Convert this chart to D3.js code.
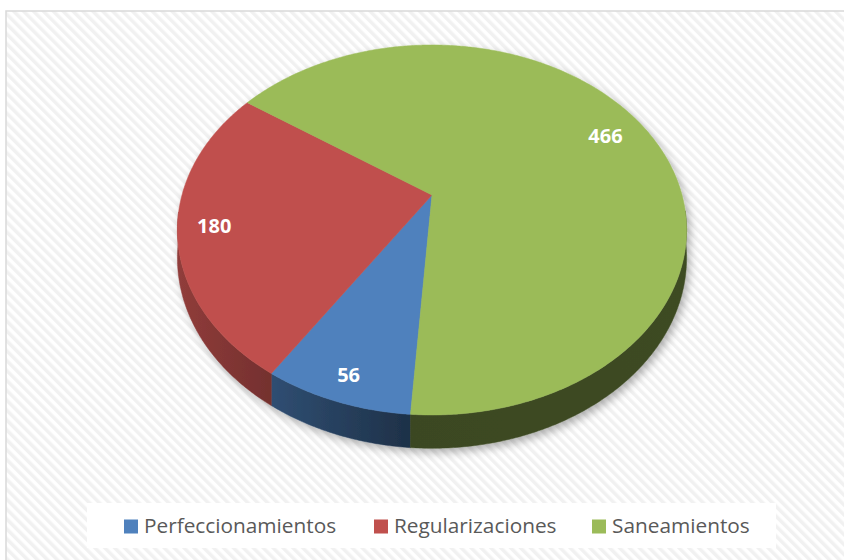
<!DOCTYPE html>
<html>
<head>
<meta charset="utf-8">
<script src="https://cdn.jsdelivr.net/npm/d3@7"></script>
<style>
  html, body { margin: 0; padding: 0; background: #ffffff; }
  svg { display: block; }
</style>
</head>
<body>
<svg id="chart" width="844" height="560"></svg>
<script>
// ---- data ----
const categories = ["Perfeccionamientos", "Regularizaciones", "Saneamientos"];
const values = [56, 180, 466];
const colors = ["#4f81bd", "#c0504d", "#9bbb59"];

// ---- layout ----
const cx = 432, cy = 195;       // projected pie centre (apex)
const rxBase = 250, ryBase = 178.4, persp = 0.189; // perspective ellipse
const thick = 27;               // side thickness
const startDeg = 184;           // first slice angle

const svg = d3.select("#chart");
const defs = svg.append("defs");

// striped background pattern
const pat = defs.append("pattern")
  .attr("id", "stripes")
  .attr("patternUnits", "userSpaceOnUse")
  .attr("width", 7).attr("height", 7)
  .attr("patternTransform", "rotate(-45)");
pat.append("rect").attr("width", 7).attr("height", 7).attr("fill", "#ffffff");
pat.append("rect").attr("width", 3.5).attr("height", 7).attr("fill", "#f1f1f1");

const flt = defs.append("filter").attr("id", "shadow")
  .attr("x", "-10%").attr("y", "-10%").attr("width", "125%").attr("height", "130%");
flt.append("feDropShadow").attr("dx", 3).attr("dy", 4).attr("stdDeviation", 4)
  .attr("flood-color", "#000").attr("flood-opacity", 0.3);

// chart area
svg.append("rect").attr("x", 6).attr("y", 11).attr("width", 900).attr("height", 600)
  .attr("fill", "url(#stripes)").attr("stroke", "#d9d9d9").attr("stroke-width", 1.5);

// scales
const color = d3.scaleOrdinal().domain(categories).range(colors);
const start = startDeg * Math.PI / 180;
const pie = d3.pie().sort(null).value(d => d.value)
  .startAngle(start).endAngle(start + 2 * Math.PI);
const arcs = pie(categories.map((c, i) => ({ cat: c, value: values[i] })));

function proj(theta, rho, depth) {
  const u = rho * Math.sin(theta), v = rho * Math.cos(theta);
  const s = 1 / (1 + persp * v);
  return [cx + rxBase * u * s, cy - ryBase * v * s + depth * s];
}

// side shading gradients (darker toward the front-right)
const shadeStops = [[180, 0.25], [410, 0.62], [690, 0.6]];
arcs.forEach((a, i) => {
  const base = d3.color(color(a.data.cat));
  const gr = defs.append("linearGradient").attr("id", "side" + i)
    .attr("gradientUnits", "userSpaceOnUse")
    .attr("x1", 180).attr("y1", 0).attr("x2", 690).attr("y2", 0);
  shadeStops.forEach(([x, t]) => {
    gr.append("stop").attr("offset", (x - 180) / 510)
      .attr("stop-color", d3.interpolateRgb(base, "#000000")(t));
  });
});

const g = svg.append("g").attr("filter", "url(#shadow)");
const line = d3.line();
const step = Math.PI / 360;

// side walls (front half only)
const lo = 95 * Math.PI / 180, hi = 265 * Math.PI / 180;
function norm(t) { let r = t % (2 * Math.PI); if (r < 0) r += 2 * Math.PI; return r; }
const sides = [];
arcs.forEach((a, i) => {
  // walk slice angle range, keep portions inside [lo, hi]
  const n = Math.ceil((a.endAngle - a.startAngle) / step);
  let seg = [];
  const flush = () => { if (seg.length > 1) sides.push({ i, angs: seg }); seg = []; };
  for (let j = 0; j <= n; j++) {
    const t = a.startAngle + (a.endAngle - a.startAngle) * j / n;
    const tn = norm(t);
    if (tn >= lo && tn <= hi) seg.push(t); else flush();
  }
  flush();
});
g.append("g").selectAll("path").data(sides).join("path")
  .attr("d", d => {
    const top = d.angs.map(t => proj(t, 1, 0));
    const bot = d.angs.slice().reverse().map(t => proj(t, 1, thick));
    return line(top.concat(bot)) + "Z";
  })
  .attr("fill", d => `url(#side${d.i})`)
  .attr("stroke", d => `url(#side${d.i})`).attr("stroke-width", 0.5);

// top faces
g.append("g").selectAll("path").data(arcs).join("path")
  .attr("d", a => {
    const pts = [[cx, cy]];
    const n = Math.max(2, Math.ceil((a.endAngle - a.startAngle) / step));
    for (let i = 0; i <= n; i++) {
      const t = a.startAngle + (a.endAngle - a.startAngle) * i / n;
      pts.push(proj(t, 1, 0));
    }
    return line(pts) + "Z";
  })
  .attr("fill", a => color(a.data.cat))
  .attr("stroke", a => color(a.data.cat)).attr("stroke-width", 0.5);

// data labels
const labelRho = [0.89, 0.86, 0.82];
svg.append("g").selectAll("text").data(arcs).join("text")
  .attr("x", (a, i) => proj((a.startAngle + a.endAngle) / 2, labelRho[i], 0)[0])
  .attr("y", (a, i) => proj((a.startAngle + a.endAngle) / 2, labelRho[i], 0)[1])
  .attr("text-anchor", "middle").attr("dominant-baseline", "central")
  .attr("font-family", "'Open Sans', sans-serif").attr("font-weight", 700)
  .attr("font-size", 20).attr("fill", "#ffffff")
  .text(a => a.data.value);

// legend
svg.append("rect").attr("x", 87).attr("y", 503).attr("width", 689).attr("height", 45)
  .attr("fill", "#ffffff");
const legendX = [124, 374, 592];
const lg = svg.append("g").selectAll("g").data(categories).join("g")
  .attr("transform", (d, i) => `translate(${legendX[i]},0)`);
lg.append("rect").attr("x", 0).attr("y", 519.5).attr("width", 14).attr("height", 14)
  .attr("fill", d => color(d));
lg.append("text").attr("x", 20).attr("y", 533)
  .attr("font-family", "'Open Sans', sans-serif").attr("font-size", 20.8)
  .attr("fill", "#595959").text(d => d);
</script>
</body>
</html>
